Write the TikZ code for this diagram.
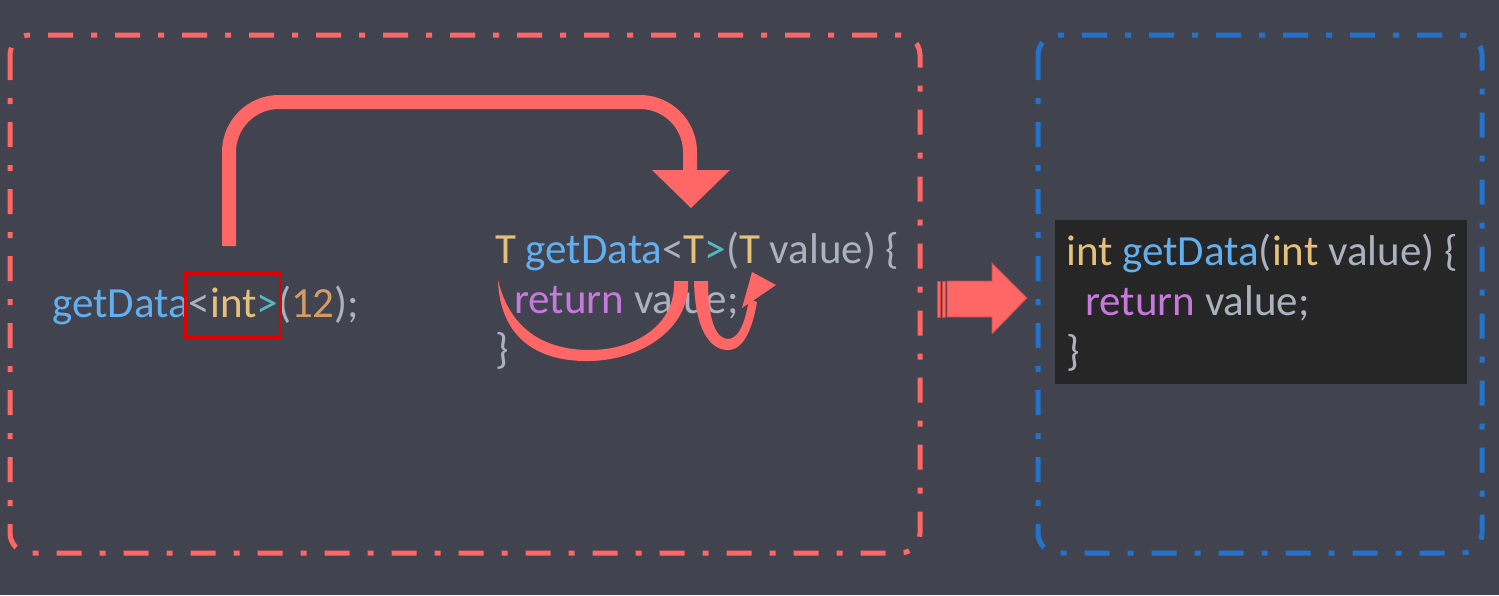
\documentclass[tikz,border=0pt]{standalone}
\usepackage{fontspec}
\setmainfont{Carlito}
\usetikzlibrary{calc}
\definecolor{bg}{RGB}{65,67,79}
\definecolor{accent}{RGB}{255,102,102}
\definecolor{accentdark}{RGB}{205,70,70}
\definecolor{boxblue}{RGB}{35,115,205}
\definecolor{hlred}{RGB}{225,0,0}
\definecolor{codebg}{RGB}{38,38,38}
\definecolor{cgray}{RGB}{171,178,191}
\definecolor{cblue}{RGB}{97,175,239}
\definecolor{cyellow}{RGB}{229,192,123}
\definecolor{corange}{RGB}{209,154,102}
\definecolor{ccyan}{RGB}{86,182,194}
\definecolor{cpurple}{RGB}{198,120,221}
\newcommand\kfn[1]{\textcolor{cblue}{#1}}
\newcommand\kty[1]{\textcolor{cyellow}{#1}}
\newcommand\knum[1]{\textcolor{corange}{#1}}
\newcommand\kop[1]{\textcolor{ccyan}{#1}}
\newcommand\kkw[1]{\textcolor{cpurple}{#1}}
\tikzset{
  codeline/.style={anchor=base west, inner sep=0pt, text=cgray, font=\fontsize{43}{50}\selectfont},
  framebox/.style={line width=5pt, rounded corners=20pt, dash pattern=on 25pt off 18pt on 6pt off 18pt},
  flowline/.style={draw=accent, line width=14pt, rounded corners=50pt},
  swoosh/.style={fill=accent},
}
\begin{document}
\begin{tikzpicture}[x=1pt,y=-1pt]
\fill[bg] (0,0) rectangle (1499,595);
\useasboundingbox (0,0) rectangle (1499,595);

% frames
\draw[framebox, accent] (10,35) rectangle (920,553);
\draw[framebox, boxblue] (1038,35) rectangle (1482,553);

% right code background
\node[fill=codebg, minimum width=412pt, minimum height=164pt, inner sep=0pt, anchor=north west] (outbg) at (1055,220) {};

% left call
\node[codeline] (call) at (52,317) {\kfn{getData}<\kty{int}\kop{>}(\knum{12});};
\node[draw=hlred, line width=3.5pt, minimum width=95pt, minimum height=64pt, inner sep=0pt] (intbox) at (233,305) {};

% template code
\node[codeline] (t1) at (495,263) {\kty{T} \kfn{getData}<\kty{T}\kop{>}(\kty{T} value) \{};
\node[codeline] (t2) at (514,313) {\kkw{return} value;};
\node[codeline] (t3) at (495,363) {\}};

% generated code
\node[codeline] (g1) at (1066,265) {\kty{int} \kfn{getData}(\kty{int} value) \{};
\node[codeline] (g2) at (1085,315) {\kkw{return} value;};
\node[codeline] (g3) at (1066,365) {\}};

% top curved arrow
\coordinate (src) at (229,246);
\coordinate (turn) at (690,102);
\coordinate (headbase) at (690,171);
\coordinate (dst) at (691,208);
\draw[flowline] (src) |- (turn) -- (headbase);
\fill[accent] ($(headbase)+(-38,-1)$) -- ($(headbase)+(40,-1)$) -- (dst) -- cycle;

% big swoosh under template
\fill[swoosh] (498,280) .. controls (500,340) and (540,362) .. (590,361)
  .. controls (640,360) and (690,330) .. (688,281) -- (674,281)
  .. controls (676,325) and (635,350) .. (590,350)
  .. controls (545,350) and (510,330) .. (498,280) -- cycle;

% small loop with arrowhead
\fill[swoosh] (694,281) .. controls (695,330) and (710,350) .. (728,350)
  .. controls (745,350) and (753,325) .. (757,302)
  -- (749,299)
  .. controls (746,318) and (740,339) .. (728,339)
  .. controls (716,339) and (708,320) .. (708,281) -- cycle;
\coordinate (loopend) at (776,285);
\fill[swoosh] (752,272) -- (loopend) -- (742,308) -- cycle;

% transform arrow
\coordinate (tstart) at (937,299);
\coordinate (tend) at (1027,298);
\filldraw[fill=accent, draw=accentdark, line width=0.8pt] (937,281) rectangle (940,317);
\filldraw[fill=accent, draw=accentdark, line width=0.8pt] (942,281) rectangle (945,317);
\filldraw[fill=accent, draw=accentdark, line width=0.8pt] (947,281) -- (992,281) -- (992,263) -- (tend) -- (992,334) -- (992,317) -- (947,317) -- cycle;
\end{tikzpicture}
\end{document}
